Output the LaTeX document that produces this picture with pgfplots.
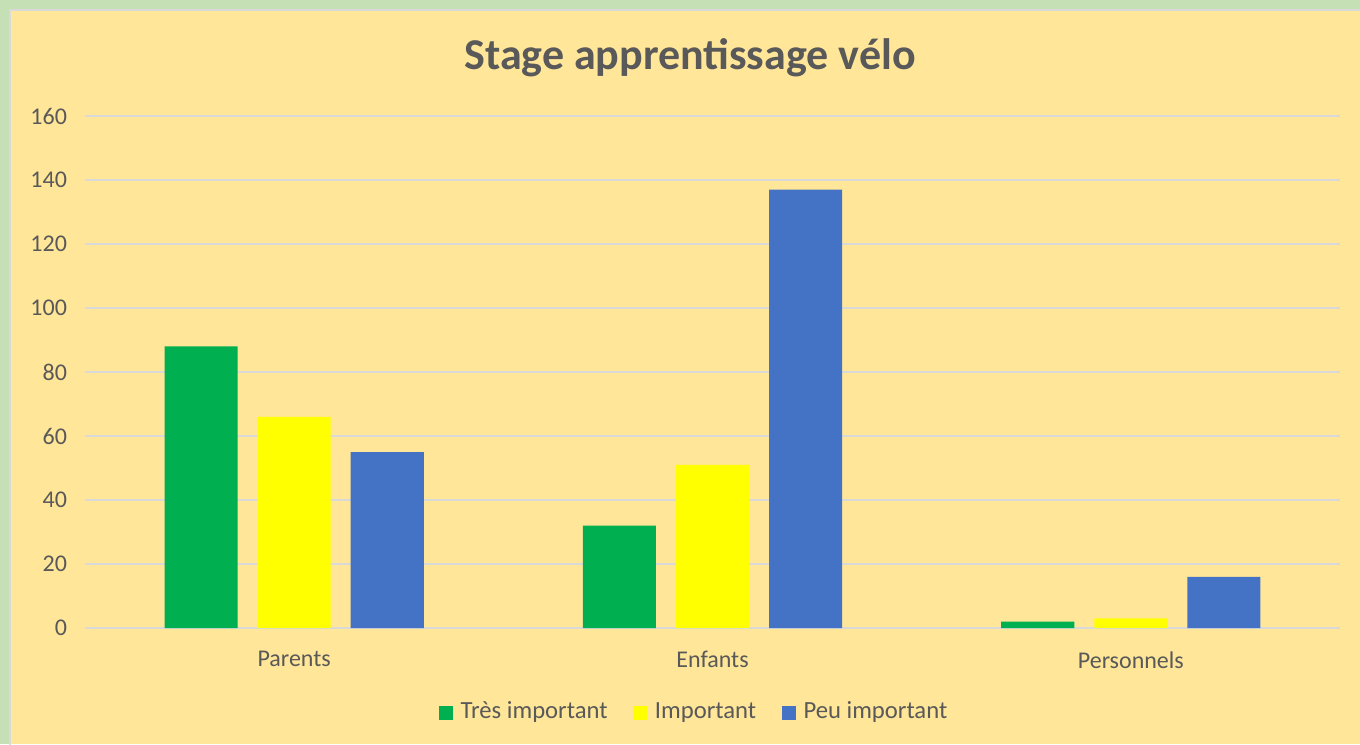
\documentclass[border=0pt]{standalone}
\usepackage{pgfplots}
\pgfplotsset{compat=1.18}
\usepackage{fontspec}
\setmainfont{Carlito}
\definecolor{bgyellow}{HTML}{FFE699}
\definecolor{bggreen}{HTML}{C5E0B4}
\definecolor{gridgray}{HTML}{D9D9D9}
\definecolor{txt}{HTML}{595959}
\definecolor{cgreen}{HTML}{00B050}
\definecolor{cyellow}{HTML}{FFFF00}
\definecolor{cblue}{HTML}{4472C4}
\begin{document}
\begin{tikzpicture}
\useasboundingbox (0pt,0pt) rectangle (1020pt,558pt);
\fill[bggreen] (0pt,0pt) rectangle (1020pt,558pt);
\fill[bgyellow] (7.5pt,0pt) rectangle (1020pt,550.5pt);
\draw[gridgray,line width=1.2pt] (7.5pt,-5pt) -- (7.5pt,550.5pt) -- (1025pt,550.5pt);
\node[text=txt,font=\fontsize{33pt}{38pt}\selectfont\bfseries] at (517.5pt,514.5pt) {Stage apprentissage vélo};
\begin{axis}[
  at={(63.75pt,87pt)}, anchor=south west,
  scale only axis,
  width=941.25pt, height=384pt,
  xmin=-0.5, xmax=2.5, ymin=0, ymax=160,
  ytick={0,20,...,160},
  xtick={0,1,2},
  xticklabels={Parents,Enfants,Personnels},
  major tick length=0pt,
  axis line style={draw=none},
  ymajorgrids, grid style={gridgray,line width=1.1pt},
  tick label style={text=txt,font=\fontsize{18pt}{21pt}\selectfont},
  /pgf/number format/assume math mode=true,
  yticklabel style={xshift=-10pt},
  xticklabel style={yshift=-14pt},
  bar width=0.1746,
  legend style={at={(0.4855,-0.166)}, anchor=center, draw=none, fill=none,
    legend columns=-1, font=\fontsize{18.5pt}{21pt}\selectfont, text=txt,
    nodes={text height=12.5pt, text depth=3.5pt},
    /tikz/every odd column/.append style={column sep=4pt},
    /tikz/every even column/.append style={column sep=17pt}},
  legend image code/.code={\fill[#1] (0pt,-5.25pt) rectangle (10.5pt,5.25pt);},
]
\addplot[ybar, fill=cgreen, draw=none, bar shift=-0.2225] coordinates {(0,88) (1,32) (2,2)};
\addplot[ybar, fill=cyellow, draw=none, bar shift=0] coordinates {(0,66) (1,51) (2,3)};
\addplot[ybar, fill=cblue, draw=none, bar shift=0.2225] coordinates {(0,55) (1,137) (2,16)};
\legend{Très important,Important,Peu important}
\end{axis}
\end{tikzpicture}
\end{document}
